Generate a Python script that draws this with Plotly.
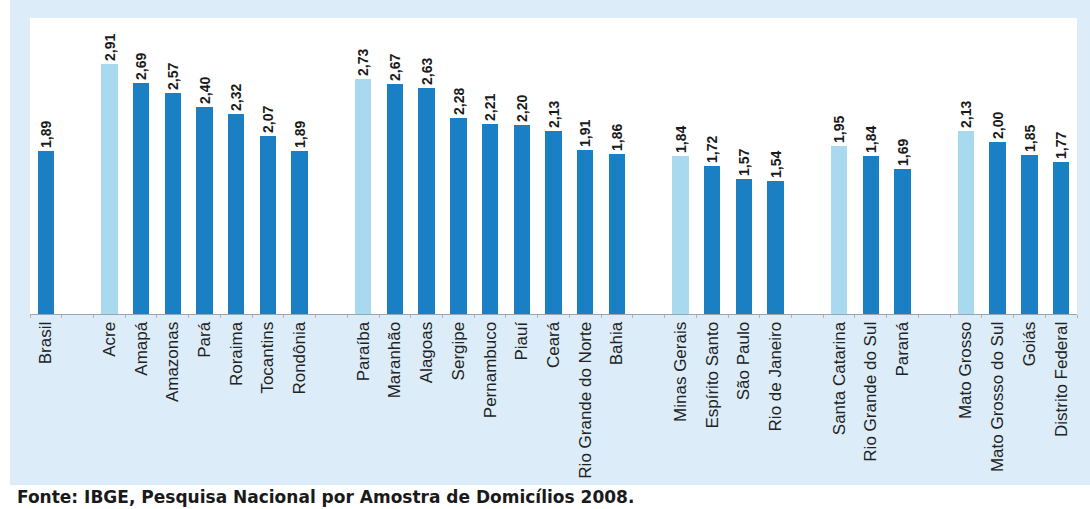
import plotly.graph_objects as go

# Regions separated by an empty slot on the x axis
states = [
    "Brasil", "",
    "Acre", "Amapá", "Amazonas", "Pará", "Roraima", "Tocantins", "Rondônia", "",
    "Paraíba", "Maranhão", "Alagoas", "Sergipe", "Pernambuco", "Piauí", "Ceará",
    "Rio Grande do Norte", "Bahia", "",
    "Minas Gerais", "Espírito Santo", "São Paulo", "Rio de Janeiro", "",
    "Santa Catarina", "Rio Grande do Sul", "Paraná", "",
    "Mato Grosso", "Mato Grosso do Sul", "Goiás", "Distrito Federal",
]
values = [
    1.89, None,
    2.91, 2.69, 2.57, 2.40, 2.32, 2.07, 1.89, None,
    2.73, 2.67, 2.63, 2.28, 2.21, 2.20, 2.13, 1.91, 1.86, None,
    1.84, 1.72, 1.57, 1.54, None,
    1.95, 1.84, 1.69, None,
    2.13, 2.00, 1.85, 1.77,
]
# states drawn in the lighter shade (top of each region)
highlight = ["Acre", "Paraíba", "Minas Gerais", "Santa Catarina", "Mato Grosso"]

DARK = "#1b80c3"
LIGHT = "#a8d9ef"

xs, ys, cols, labels = [], [], [], []
for i, (s, v) in enumerate(zip(states, values)):
    if v is None:
        continue
    xs.append(i)
    ys.append(v)
    cols.append(LIGHT if s in highlight else DARK)
    labels.append(f"{v:.2f}".replace(".", ","))

tick_pos = [i for i, s in enumerate(states) if s]
tick_txt = [s for s in states if s]

fig = go.Figure(
    go.Bar(
        x=xs,
        y=ys,
        marker=dict(color=cols, line=dict(width=0)),
        width=0.52,
        text=labels,
        textposition="outside",
        textangle=-90,
        constraintext="none",
        cliponaxis=False,
        textfont=dict(family="Liberation Sans Narrow, Liberation Sans", size=14,
                      color="#1a1a1a", weight="bold"),
    )
)

fig.update_layout(
    width=1090,
    height=509,
    margin=dict(l=30, r=13, t=18, b=195),
    paper_bgcolor="white",
    plot_bgcolor="white",
    showlegend=False,
    bargap=0,
    shapes=[
        # light blue panel behind the chart and category labels
        dict(type="rect", xref="paper", yref="paper", layer="below",
             x0=-20 / 1047, x1=1072 / 1047, y0=-171 / 296, y1=1 + 18 / 296,
             fillcolor="#dcedf9", line=dict(width=0)),
        dict(type="rect", xref="paper", yref="paper", layer="below",
             x0=0, x1=1, y0=0, y1=1,
             fillcolor="white", line=dict(width=0)),
    ],
    annotations=[
        dict(text="<b>Fonte: IBGE, Pesquisa Nacional por Amostra de Domicílios 2008.</b>",
             xref="paper", yref="paper", x=-15 / 1047, y=-183 / 296,
             xanchor="left", yanchor="middle", showarrow=False,
             font=dict(family="DejaVu Sans", size=17, color="#1a1a1a")),
    ],
)

fig.update_xaxes(
    range=[-0.5, len(states) - 0.5],
    tickvals=tick_pos,
    ticktext=tick_txt,
    tickangle=-90,
    ticks="",
    tickfont=dict(family="Liberation Sans", size=17, color="#222222"),
    showline=True,
    linecolor="#9aa6b0",
    linewidth=1,
    showgrid=False,
    zeroline=False,
    minor=dict(tickvals=[i + 0.5 for i in range(-1, len(states))],
               ticks="outside", ticklen=3, tickcolor="#c9a9a9"),
)
fig.update_yaxes(range=[0, 3.44], visible=False, showgrid=False)

fig.write_html("out.html")
